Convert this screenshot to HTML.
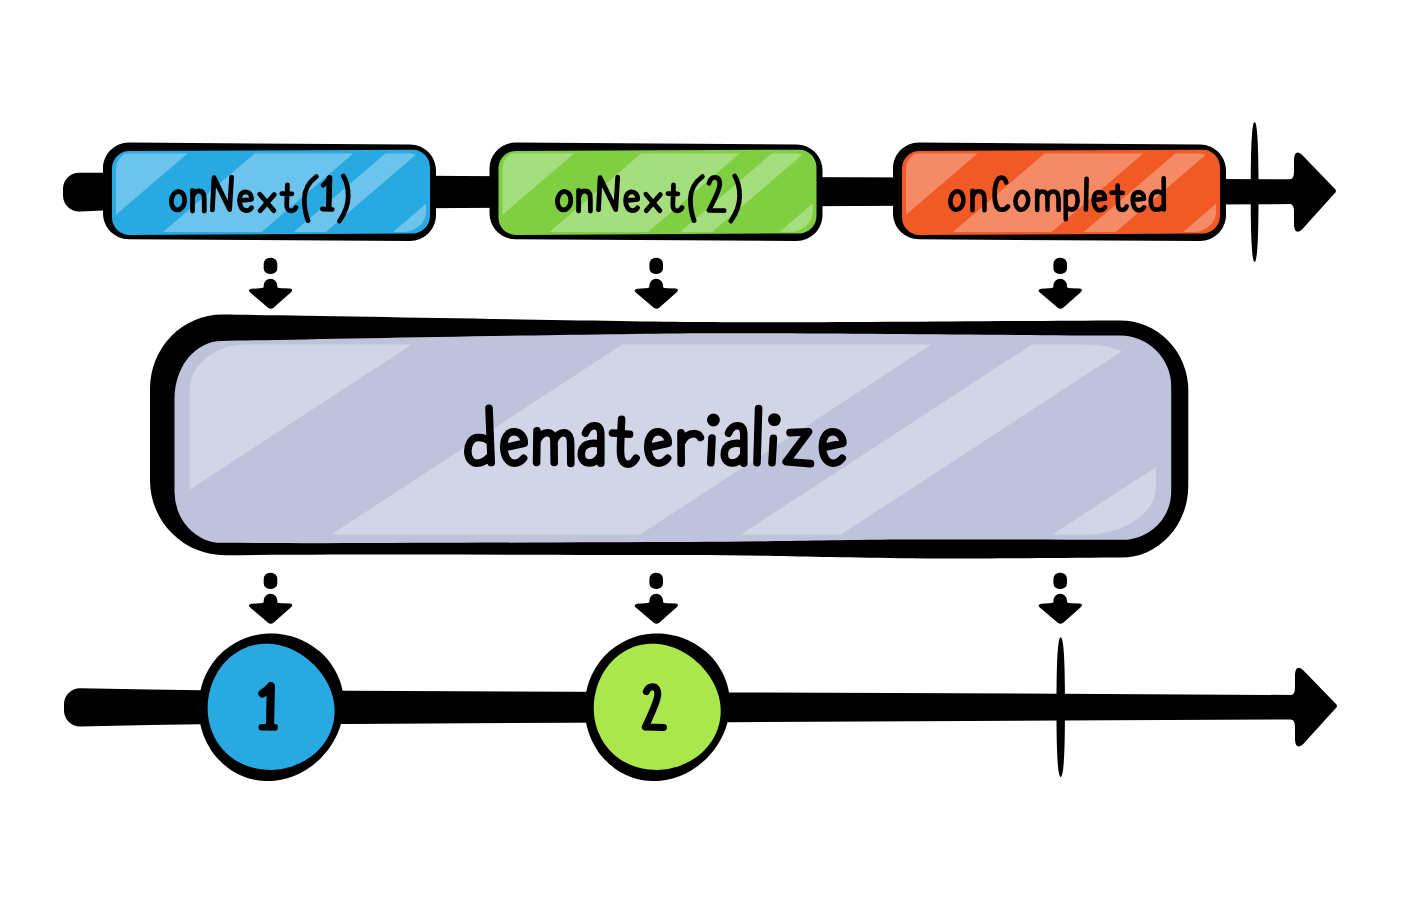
<!DOCTYPE html><html><head><meta charset="utf-8"><style>html,body{margin:0;padding:0;background:#fff;overflow:hidden;width:1401px;height:901px;}svg{display:block;}text{font-family:"Liberation Sans",sans-serif;}</style></head><body>
<svg width="1401" height="901" viewBox="0 0 1401 901">
<rect width="1401" height="901" fill="#fff"/>
<path fill="#000" d="M79,172.7 L80,172.7 L103,172.8 L460,176 L855,177.3 L1292,179.3 L1292,204.1 L855,206.1 L460,208 L103,210.6 L80,211.6 L79,211.6 C70.2,211.6 63,204.4 63,195.6 L63,188.7 C63,179.89999999999998 70.2,172.7 79,172.7 Z"/>
<path fill="#000" d="M1290,179.3 Q1294,179.3 1294,171.3 L1294,158.8 Q1295,148.8 1302,154.8 L1334,188 Q1338,191 1334,194 L1302,229.4 Q1295,235.4 1294,225.4 L1294,212.1 Q1294,204.1 1290,204.1 Z"/>
<path fill="#000" d="M129,142.6 L410,144.4 C424.3598,144.4 436,156.0402 436,170.4 L436,215 C436,229.3598 424.3598,241 410,241 L129,239.3 C114.6402,239.3 103,227.65980000000002 103,213.3 L103,168.6 C103,154.2402 114.6402,142.6 129,142.6 Z"/>
<path fill="#29A9E1" d="M129.5,151 L412.5,149.7 C422.16525,149.7 430,157.53474999999997 430,167.2 L430,215.9 C430,225.56525 422.16525,233.4 412.5,233.4 L129.5,235 C119.83475,235 112,227.16525000000001 112,217.5 L112,168.5 C112,158.83474999999999 119.83475,151 129.5,151 Z"/>
<clipPath id="c1"><path d="M129,153.2 L408.2,153.2 A18,18 0 0 1 426.2,171.2 L426.2,211 A23,21 0 0 1 403.2,232 L130,232 A14,16 0 0 1 116,216 L116,169.2 A13,16 0 0 1 129,153.2 Z"/></clipPath>
<path clip-path="url(#c1)" fill="#6CC4EC" d="M-206.0,153.2 L187.8,153.2 L95.9,232.0 L-297.9,232.0 Z M254.9,153.2 L353.5,153.2 L261.6,232.0 L163.0,232.0 Z M385.6,153.2 L417.6,153.2 L325.7,232.0 L293.7,232.0 Z M485.0,153.2 L907.0,153.2 L815.1,232.0 L393.1,232.0 Z"/>
<path fill="#000" d="M515.5,142.6 L796.5,144.4 C810.8598,144.4 822.5,156.0402 822.5,170.4 L822.5,215 C822.5,229.3598 810.8598,241 796.5,241 L515.5,239.3 C501.1402,239.3 489.5,227.65980000000002 489.5,213.3 L489.5,168.6 C489.5,154.2402 501.1402,142.6 515.5,142.6 Z"/>
<path fill="#80CF43" d="M516.0,151 L799.0,149.7 C808.66525,149.7 816.5,157.53474999999997 816.5,167.2 L816.5,215.9 C816.5,225.56525 808.66525,233.4 799.0,233.4 L516.0,235 C506.33475,235 498.5,227.16525000000001 498.5,217.5 L498.5,168.5 C498.5,158.83474999999999 506.33475,151 516.0,151 Z"/>
<clipPath id="c2"><path d="M515.5,153.2 L794.7,153.2 A18,18 0 0 1 812.7,171.2 L812.7,211 A23,21 0 0 1 789.7,232 L516.5,232 A14,16 0 0 1 502.5,216 L502.5,169.2 A13,16 0 0 1 515.5,153.2 Z"/></clipPath>
<path clip-path="url(#c2)" fill="#A5DE7E" d="M180.5,153.2 L574.3,153.2 L482.4,232.0 L88.6,232.0 Z M641.4,153.2 L740.0,153.2 L648.1,232.0 L549.5,232.0 Z M772.1,153.2 L804.1,153.2 L712.2,232.0 L680.2,232.0 Z M871.5,153.2 L1293.5,153.2 L1201.6,232.0 L779.6,232.0 Z"/>
<path fill="#000" d="M919,142.6 L1200,144.4 C1214.3598,144.4 1226,156.0402 1226,170.4 L1226,215 C1226,229.3598 1214.3598,241 1200,241 L919,239.3 C904.6402,239.3 893,227.65980000000002 893,213.3 L893,168.6 C893,154.2402 904.6402,142.6 919,142.6 Z"/>
<path fill="#F15A24" d="M919.5,151 L1202.5,149.7 C1212.16525,149.7 1220,157.53474999999997 1220,167.2 L1220,215.9 C1220,225.56525 1212.16525,233.4 1202.5,233.4 L919.5,235 C909.83475,235 902,227.16525000000001 902,217.5 L902,168.5 C902,158.83474999999999 909.83475,151 919.5,151 Z"/>
<clipPath id="c3"><path d="M919,153.2 L1198.2,153.2 A18,18 0 0 1 1216.2,171.2 L1216.2,211 A23,21 0 0 1 1193.2,232 L920,232 A14,16 0 0 1 906,216 L906,169.2 A13,16 0 0 1 919,153.2 Z"/></clipPath>
<path clip-path="url(#c3)" fill="#F48B66" d="M584.0,153.2 L977.8,153.2 L885.9,232.0 L492.1,232.0 Z M1044.9,153.2 L1143.5,153.2 L1051.6,232.0 L953.0,232.0 Z M1175.6,153.2 L1207.6,153.2 L1115.7,232.0 L1083.7,232.0 Z M1275.0,153.2 L1697.0,153.2 L1605.1,232.0 L1183.1,232.0 Z"/>
<path fill="#000" d="M1254.6,122 C1257.7199999999998,122.5 1258.5,152.8 1258.5,192.0 C1258.5,231.2 1257.7199999999998,261.5 1254.6,262 C1251.48,261.5 1250.6999999999998,231.2 1250.6999999999998,192.0 C1250.6999999999998,152.8 1251.48,122.5 1254.6,122 Z"/>
<g fill="none" stroke="#000" stroke-width="4.8"><ellipse cx="178" cy="200.7" rx="6.7" ry="9.2" transform="rotate(6 178 200.7)"/><ellipse cx="564.1" cy="200.7" rx="6.7" ry="9.2" transform="rotate(6 564.1 200.7)"/></g>
<g fill="none" stroke="#000" stroke-width="4.8" stroke-linecap="round" stroke-linejoin="round"><path d="M192.50,190.50 L192.50,211.00 M192.60,197.50 C193.50,192.50 196.00,191.00 198.50,191.00 C202.50,191.00 204.20,193.50 204.20,198.00 L204.30,211.00 M212.40,209.80 L214.00,177.60 L229.60,209.50 L231.60,177.20 M240.00,200.60 L251.50,199.40 C251.80,194.50 249.00,191.80 245.50,191.80 C241.50,191.80 239.50,195.50 239.50,200.50 C239.50,206.50 242.50,210.60 246.50,210.60 C249.00,210.60 250.50,209.40 251.50,207.80 M259.80,194.20 L273.80,210.60 M274.20,194.60 L260.20,210.60 M287.40,185.00 L286.70,204.50 C286.60,209.00 288.50,210.80 291.00,210.80 C293.50,210.80 295.00,209.50 296.00,207.60 M281.80,193.60 L291.80,193.90 M316.30,176.60 C309.00,182.00 304.50,190.00 304.30,199.00 C304.20,207.00 305.50,214.00 308.00,220.60 M323.20,185.20 C325.20,183.50 327.60,181.00 329.60,177.60 L328.70,208.40 M322.40,209.00 L332.20,209.40 M343.30,176.00 C346.50,181.00 348.20,188.00 348.20,196.00 C348.20,205.00 345.00,213.00 339.50,221.00"/><path d="M578.60,190.50 L578.60,211.00 M578.70,197.50 C579.60,192.50 582.10,191.00 584.60,191.00 C588.60,191.00 590.30,193.50 590.30,198.00 L590.40,211.00 M598.50,209.80 L600.10,177.60 L615.70,209.50 L617.70,177.20 M626.10,200.60 L637.60,199.40 C637.90,194.50 635.10,191.80 631.60,191.80 C627.60,191.80 625.60,195.50 625.60,200.50 C625.60,206.50 628.60,210.60 632.60,210.60 C635.10,210.60 636.60,209.40 637.60,207.80 M645.90,194.20 L659.90,210.60 M660.30,194.60 L646.30,210.60 M673.50,185.00 L672.80,204.50 C672.70,209.00 674.60,210.80 677.10,210.80 C679.60,210.80 681.10,209.50 682.10,207.60 M667.90,193.60 L677.90,193.90 M702.40,176.60 C695.10,182.00 690.60,190.00 690.40,199.00 C690.30,207.00 691.60,214.00 694.10,220.60 M709,183.2 C710,179.2 712.3,177.3 714.8,177.3 C718.2,177.3 719.8,180 719.8,184 C719.8,189.5 716,196 709,210.4 L724.2,210.6 M734.7,176 C737.9,181 739.6,188 739.6,196 C739.6,205 736.4,213 730.9,221"/></g>
<g fill="none" stroke="#000" stroke-width="4.6" stroke-linecap="round" stroke-linejoin="round"><path d="M972.5,190.8 L972.5,210.3 M972.6,197.5 C973.5,192.5 976,191.3 978.5,191.3 C982.5,191.3 984.4,193.8 984.4,198.3 L984.5,210.3 M1006.2,182.5 C1005.5,179 1003.5,177.6 1001.2,177.6 C996.5,177.6 994.6,186.5 994.6,194.5 C994.6,203.5 997,209.8 1001.5,209.8 C1004.5,209.8 1006.5,208.5 1008,206.5 M1037.2,190.8 L1037.2,210 M1037.3,197 C1038,192.8 1040,191.5 1042.3,191.5 C1045.5,191.5 1047.4,193.5 1047.4,198 L1047.5,209.8 M1047.5,197.5 C1048.3,193 1050.5,191.5 1053,191.5 C1056.5,191.5 1058.5,194 1058.5,198.5 L1058.6,210 M1065.7,191.6 L1065.8,219.3 M1066,195 C1067.5,192.3 1070.5,191.4 1072.6,191.4 C1076.3,191.4 1077.6,195.5 1077.6,200.5 C1077.6,206 1075,209.6 1071.5,209.6 C1069.5,209.6 1067.6,208.6 1066,207 M1086.6,178.9 L1085.9,209.5 M1094,200 L1105,198.8 C1105.2,194.3 1102.5,192.1 1099.3,192.1 C1095.5,192.1 1093.7,195.5 1093.7,200.3 C1093.7,206 1096.5,210.2 1100,210.2 C1102.5,210.2 1104,209 1105,207.3 M1117.6,185.6 L1118,204.5 C1118.1,208.5 1120,210 1122.3,210 C1124.5,210 1125.8,208.5 1126.6,206.5 M1111.6,192.6 L1122.6,192.9 M1133.00,200.00 L1144.00,198.80 C1144.20,194.30 1141.50,192.10 1138.30,192.10 C1134.50,192.10 1132.70,195.50 1132.70,200.30 C1132.70,206.00 1135.50,210.20 1139.00,210.20 C1141.50,210.20 1143.00,209.00 1144.00,207.30 M1163.7,178.4 L1163.8,209.5 M1163.5,194.5 C1161.5,192.2 1159.2,191.6 1157.2,191.6 C1153,191.6 1150.7,196 1150.7,201 C1150.7,206.5 1153,209.8 1156.5,209.8 C1159,209.8 1161.5,208.5 1163.6,206"/><ellipse cx="956.9" cy="200.55" rx="6.5" ry="9.25" transform="rotate(6 956.9 200.55)"/><ellipse cx="1021.8" cy="200.75" rx="6.3" ry="9.05" transform="rotate(6 1021.8 200.75)"/></g>
<rect x="263.7" y="257.8" width="13.6" height="16.3" rx="6.4" ry="5.9" fill="#000"/>
<path fill="#000" d="M263.7,287.3 L263.7,285.6 A6.8,6.8 0 0 1 277.3,285.6 L277.3,287.3 Q278.5,288.3 281.5,288.3 L290.0,288.6 Q294.0,289.3 291.0,292.3 L273.5,307.8 Q270.8,309.8 268.1,307.8 L251.0,293.3 Q246.5,289.8 251.5,288.8 L259.5,288.3 Q262.5,288.3 263.7,287.3 Z"/>
<rect x="263.7" y="572.8" width="13.6" height="16.3" rx="6.4" ry="5.9" fill="#000"/>
<path fill="#000" d="M263.7,602.3 L263.7,600.5999999999999 A6.8,6.8 0 0 1 277.3,600.5999999999999 L277.3,602.3 Q278.5,603.3 281.5,603.3 L290.0,603.5999999999999 Q294.0,604.3 291.0,607.3 L273.5,622.8 Q270.8,624.8 268.1,622.8 L251.0,608.3 Q246.5,604.8 251.5,603.8 L259.5,603.3 Q262.5,603.3 263.7,602.3 Z"/>
<rect x="649.4000000000001" y="257.8" width="13.6" height="16.3" rx="6.4" ry="5.9" fill="#000"/>
<path fill="#000" d="M649.4000000000001,287.3 L649.4000000000001,285.6 A6.8,6.8 0 0 1 663.0,285.6 L663.0,287.3 Q664.2,288.3 667.2,288.3 L675.7,288.6 Q679.7,289.3 676.7,292.3 L659.2,307.8 Q656.5,309.8 653.8000000000001,307.8 L636.7,293.3 Q632.2,289.8 637.2,288.8 L645.2,288.3 Q648.2,288.3 649.4000000000001,287.3 Z"/>
<rect x="649.4000000000001" y="572.8" width="13.6" height="16.3" rx="6.4" ry="5.9" fill="#000"/>
<path fill="#000" d="M649.4000000000001,602.3 L649.4000000000001,600.5999999999999 A6.8,6.8 0 0 1 663.0,600.5999999999999 L663.0,602.3 Q664.2,603.3 667.2,603.3 L675.7,603.5999999999999 Q679.7,604.3 676.7,607.3 L659.2,622.8 Q656.5,624.8 653.8000000000001,622.8 L636.7,608.3 Q632.2,604.8 637.2,603.8 L645.2,603.3 Q648.2,603.3 649.4000000000001,602.3 Z"/>
<rect x="1053.4" y="257.8" width="13.6" height="16.3" rx="6.4" ry="5.9" fill="#000"/>
<path fill="#000" d="M1053.4,287.3 L1053.4,285.6 A6.8,6.8 0 0 1 1067.0,285.6 L1067.0,287.3 Q1068.2,288.3 1071.2,288.3 L1079.7,288.6 Q1083.7,289.3 1080.7,292.3 L1063.2,307.8 Q1060.5,309.8 1057.8,307.8 L1040.7,293.3 Q1036.2,289.8 1041.2,288.8 L1049.2,288.3 Q1052.2,288.3 1053.4,287.3 Z"/>
<rect x="1053.4" y="572.8" width="13.6" height="16.3" rx="6.4" ry="5.9" fill="#000"/>
<path fill="#000" d="M1053.4,602.3 L1053.4,600.5999999999999 A6.8,6.8 0 0 1 1067.0,600.5999999999999 L1067.0,602.3 Q1068.2,603.3 1071.2,603.3 L1079.7,603.5999999999999 Q1083.7,604.3 1080.7,607.3 L1063.2,622.8 Q1060.5,624.8 1057.8,622.8 L1040.7,608.3 Q1036.2,604.8 1041.2,603.8 L1049.2,603.3 Q1052.2,603.3 1053.4,602.3 Z"/>
<path fill="#000" d="M150,388.4 A72,74 0 0 1 222,314.6 C300,315.5 600,321 700,322.1 C800,323 1000,321 1120.3,320.5 A68,70 0 0 1 1188.3,390.5 L1188.3,485.7 A67,72 0 0 1 1121.3,557.6 C1000,558.5 950,558.8 900,558.3 C800,557 750,555 690,555 C550,554.8 350,554 225,555.3 A75,75 0 0 1 150,480.3 Z"/>
<path fill="#BEC3DB" d="M174.5,398.5 A47,57.5 0 0 1 221.5,341 C300,339.5 550,334.5 700,333.2 C800,332.8 1000,335 1120.2,335.6 A51,51 0 0 1 1171.2,386.6 L1171.2,491.8 A49,48 0 0 1 1122.2,539.8 C1000,539.4 950,539.3 900,539.6 C800,540.5 750,542 690,542 C550,542.2 350,543.8 221.5,542.8 A47,51 0 0 1 174.5,491.8 Z"/>
<clipPath id="c4"><path d="M247.5,344.2 L1084,344.2 A72,48 0 0 1 1156,392.2 L1156,486.79999999999995 A72,48 0 0 1 1084,534.8 L247.5,534.8 A58,46 0 0 1 189.5,488.79999999999995 L189.5,390.2 A58,46 0 0 1 247.5,344.2 Z"/></clipPath>
<path clip-path="url(#c4)" fill="#D2D5E5" d="M-822.5,344.2 L412.3,344.2 L120.4,534.8 L-1114.4,534.8 Z M622.7,344.2 L931.7,344.2 L639.8,534.8 L330.7,534.8 Z M1032.4,344.2 L1132.6,344.2 L840.7,534.8 L740.5,534.8 Z M1344.0,344.2 L2667.0,344.2 L2375.1,534.8 L1052.1,534.8 Z"/>
<g fill="none" stroke="#000" stroke-width="7.6" stroke-linecap="round" stroke-linejoin="round"><path d="M489,408.2 L491.2,462.5 M489.2,441.5 C486.5,438.5 481.5,437.3 477.5,437.5 C471,438 467.8,445 467.8,451 C467.8,458 471.5,463.2 477,463.2 C482,463.2 486.2,460.5 489.8,456.5 M505,447.5 L524.2,443.2 C524.6,436 519.5,431.8 514,431.8 C507.5,431.8 503.8,438 503.8,447 C503.8,456 508,463.2 514.5,463.2 C518.5,463.2 521.5,461 523.6,458.2 M537,430.8 L536.6,462.5 M537.2,441 C539.5,435.5 543.5,432.8 547.5,432.8 C552,432.8 554,436.5 554,441.5 L554.2,462.5 M554.2,441 C556.3,435.5 559.8,432.8 563.8,432.8 C568.6,432.8 570.6,437 570.6,443 L570.8,463.5 M585.5,433.2 C587.5,428.2 591,425.8 594.5,425.8 C599,425.8 600.8,429.5 600.8,435 L600.8,463.2 M600.4,444.5 C596,443 590.5,443 586.5,444.8 C582.8,446.5 581.3,450.5 581.3,454.5 C581.3,459.5 584.5,463 589.5,463 C594.5,463 598.2,459.5 600.6,455 M621.6,419.3 C621.2,430 620.4,442 620.5,452 C620.7,460 623.5,464.2 628,464.2 C631.5,464.2 634,461.5 636,458.2 M612.5,433 L629.6,434.2 M649.00,447.50 L668.20,443.20 C668.60,436.00 663.50,431.80 658.00,431.80 C651.50,431.80 647.80,438.00 647.80,447.00 C647.80,456.00 652.00,463.20 658.50,463.20 C662.50,463.20 665.50,461.00 667.60,458.20 M681,432.8 L681.2,463.2 M682,442 C684.5,436.5 689.5,433.6 694,433.6 C697.3,433.6 699.3,435 700.4,437.6 M712,438 L710.8,462.8 M728.50,433.20 C730.50,428.20 734.00,425.80 737.50,425.80 C742.00,425.80 743.80,429.50 743.80,435.00 L743.80,463.20 M743.40,444.50 C739.00,443.00 733.50,443.00 729.50,444.80 C725.80,446.50 724.30,450.50 724.30,454.50 C724.30,459.50 727.50,463.00 732.50,463.00 C737.50,463.00 741.20,459.50 743.60,455.00 M758.6,408.6 L757,462.7 M773.4,438.2 L772,462.8 M790,432.6 L808.6,431.8 L786.2,461.8 L810.5,463.6 M823.60,447.50 L842.80,443.20 C843.20,436.00 838.10,431.80 832.60,431.80 C826.10,431.80 822.40,438.00 822.40,447.00 C822.40,456.00 826.60,463.20 833.10,463.20 C837.10,463.20 840.10,461.00 842.20,458.20"/></g>
<g fill="#000"><circle cx="713.4" cy="420" r="6.4"/><circle cx="774.4" cy="419.6" r="6.4"/></g>
<path fill="#000" d="M80,688.2 L80,688.2 L150,689.4 L200,690.2 L350,690.8 L570,691.7 L730,692.4 L1060,693.7 L1293,695 L1293,719.4 L1060,720.6 L730,722.2 L570,722.8 L350,723.9 L200,724.3 L150,725 L80,726.5 L80,726.5 C71.2,726.5 64,719.3 64,710.5 L64,704.2 C64,695.4000000000001 71.2,688.2 80,688.2 Z"/>
<path fill="#000" d="M1291,695 Q1295,695 1295,687 L1295,674 Q1296,664 1303,670 L1335,703 Q1339,706 1335,709 L1303,744.2 Q1296,750.2 1295,740.2 L1295,727.4 Q1295,719.4 1291,719.4 Z"/>
<path fill="#000" d="M1060.7,637.2 C1064.1000000000001,637.7 1064.95,667.956 1064.95,707.1 C1064.95,746.244 1064.1000000000001,776.5 1060.7,777 C1057.3,776.5 1056.45,746.244 1056.45,707.1 C1056.45,667.956 1057.3,637.7 1060.7,637.2 Z"/>
<path fill="#000" d="M198.54,707.09 C198.55,704.97 198.65,702.84 198.83,700.73 C199.02,698.62 199.29,696.50 199.64,694.41 C200.00,692.32 200.44,690.23 200.97,688.17 C201.49,686.12 202.11,684.07 202.81,682.06 C203.50,680.05 204.29,678.07 205.16,676.12 C206.02,674.18 206.98,672.26 208.01,670.39 C209.05,668.53 210.17,666.70 211.36,664.93 C212.56,663.16 213.84,661.44 215.19,659.78 C216.54,658.12 217.97,656.51 219.46,654.98 C220.96,653.45 222.53,651.98 224.16,650.59 C225.79,649.19 227.49,647.87 229.24,646.63 C230.99,645.39 232.81,644.23 234.66,643.16 C236.52,642.08 238.43,641.09 240.38,640.19 C242.32,639.29 244.32,638.47 246.34,637.75 C248.36,637.03 250.41,636.39 252.49,635.85 C254.56,635.31 256.67,634.87 258.78,634.51 C260.89,634.16 263.03,633.90 265.16,633.73 C267.29,633.56 269.44,633.49 271.58,633.51 C273.72,633.52 275.86,633.63 277.99,633.83 C280.11,634.04 282.24,634.33 284.34,634.71 C286.44,635.09 288.53,635.56 290.59,636.12 C292.65,636.68 294.70,637.33 296.70,638.06 C298.71,638.79 300.69,639.61 302.62,640.51 C304.56,641.41 306.46,642.40 308.31,643.46 C310.17,644.53 311.98,645.68 313.73,646.90 C315.48,648.12 317.18,649.42 318.82,650.79 C320.46,652.16 322.04,653.61 323.55,655.12 C325.06,656.63 326.51,658.22 327.87,659.86 C329.23,661.50 330.53,663.21 331.74,664.97 C332.95,666.73 334.08,668.55 335.12,670.41 C336.16,672.27 337.12,674.18 337.98,676.13 C338.84,678.08 339.61,680.07 340.29,682.09 C340.97,684.10 341.55,686.15 342.03,688.22 C342.52,690.28 342.91,692.37 343.20,694.47 C343.49,696.56 343.68,698.67 343.78,700.78 C343.88,702.88 343.88,705.00 343.79,707.09 C343.69,709.19 343.51,711.29 343.23,713.36 C342.96,715.44 342.59,717.50 342.14,719.54 C341.69,721.57 341.15,723.59 340.53,725.57 C339.92,727.55 339.21,729.51 338.44,731.43 C337.67,733.35 336.81,735.24 335.89,737.08 C334.97,738.93 333.97,740.74 332.91,742.50 C331.85,744.27 330.72,745.99 329.53,747.67 C328.34,749.35 327.08,750.98 325.77,752.56 C324.45,754.15 323.08,755.68 321.65,757.16 C320.22,758.64 318.73,760.08 317.18,761.45 C315.64,762.82 314.05,764.14 312.40,765.39 C310.75,766.65 309.05,767.85 307.30,768.97 C305.56,770.10 303.76,771.17 301.92,772.16 C300.08,773.15 298.19,774.07 296.26,774.91 C294.33,775.75 292.36,776.52 290.36,777.19 C288.36,777.87 286.32,778.47 284.25,778.97 C282.19,779.48 280.09,779.90 277.97,780.21 C275.86,780.53 273.72,780.76 271.58,780.88 C269.43,781.00 267.27,781.02 265.12,780.94 C262.96,780.86 260.80,780.68 258.65,780.39 C256.51,780.10 254.37,779.70 252.26,779.21 C250.14,778.71 248.04,778.11 245.99,777.40 C243.93,776.70 241.90,775.89 239.92,774.99 C237.94,774.08 235.99,773.08 234.11,771.99 C232.23,770.89 230.39,769.70 228.63,768.43 C226.86,767.16 225.15,765.80 223.52,764.37 C221.88,762.94 220.31,761.43 218.82,759.85 C217.33,758.28 215.91,756.63 214.57,754.93 C213.23,753.23 211.97,751.46 210.80,749.65 C209.62,747.84 208.53,745.98 207.52,744.08 C206.51,742.18 205.58,740.23 204.74,738.26 C203.90,736.29 203.15,734.27 202.48,732.24 C201.81,730.21 201.22,728.15 200.72,726.08 C200.23,724.01 199.81,721.91 199.48,719.81 C199.15,717.70 198.91,715.58 198.75,713.47 C198.60,711.35 198.52,709.22 198.54,707.09 Z"/>
<path fill="#29A9E1" d="M207.70,705.31 C207.78,703.44 207.93,701.58 208.15,699.73 C208.37,697.88 208.66,696.03 209.03,694.21 C209.40,692.39 209.84,690.58 210.34,688.79 C210.85,687.01 211.43,685.24 212.08,683.51 C212.73,681.77 213.45,680.06 214.24,678.38 C215.02,676.70 215.88,675.05 216.80,673.45 C217.73,671.84 218.72,670.27 219.78,668.75 C220.83,667.23 221.96,665.74 223.15,664.32 C224.33,662.90 225.59,661.52 226.90,660.22 C228.21,658.91 229.59,657.65 231.02,656.48 C232.44,655.30 233.93,654.18 235.47,653.15 C237.00,652.11 238.59,651.15 240.22,650.27 C241.84,649.39 243.52,648.59 245.22,647.89 C246.92,647.18 248.66,646.55 250.41,646.02 C252.17,645.49 253.96,645.04 255.75,644.69 C257.54,644.34 259.36,644.08 261.17,643.91 C262.98,643.74 264.80,643.66 266.60,643.66 C268.40,643.67 270.21,643.76 271.99,643.94 C273.78,644.11 275.55,644.37 277.30,644.70 C279.04,645.03 280.77,645.45 282.47,645.93 C284.16,646.40 285.83,646.96 287.47,647.57 C289.10,648.18 290.71,648.85 292.28,649.58 C293.85,650.31 295.38,651.10 296.88,651.94 C298.38,652.77 299.85,653.66 301.28,654.59 C302.71,655.52 304.10,656.50 305.46,657.52 C306.82,658.54 308.14,659.60 309.43,660.70 C310.71,661.80 311.97,662.94 313.18,664.12 C314.40,665.30 315.58,666.52 316.72,667.78 C317.86,669.04 318.97,670.34 320.03,671.68 C321.09,673.02 322.11,674.39 323.09,675.81 C324.06,677.23 325.00,678.69 325.87,680.19 C326.75,681.68 327.58,683.22 328.35,684.80 C329.12,686.37 329.84,687.99 330.48,689.64 C331.12,691.29 331.71,692.98 332.21,694.69 C332.71,696.41 333.15,698.16 333.50,699.93 C333.85,701.70 334.13,703.50 334.31,705.31 C334.50,707.12 334.60,708.96 334.60,710.79 C334.61,712.62 334.53,714.47 334.35,716.31 C334.17,718.14 333.90,719.99 333.54,721.80 C333.17,723.62 332.71,725.43 332.16,727.21 C331.61,728.99 330.96,730.75 330.23,732.47 C329.50,734.19 328.68,735.88 327.77,737.52 C326.87,739.15 325.88,740.76 324.82,742.30 C323.76,743.84 322.61,745.34 321.40,746.77 C320.20,748.20 318.92,749.58 317.58,750.90 C316.25,752.21 314.84,753.47 313.40,754.65 C311.95,755.84 310.44,756.96 308.90,758.01 C307.35,759.07 305.76,760.05 304.13,760.97 C302.50,761.89 300.83,762.74 299.14,763.52 C297.44,764.30 295.71,765.01 293.96,765.65 C292.20,766.29 290.42,766.86 288.62,767.36 C286.82,767.86 285.00,768.29 283.16,768.65 C281.33,769.01 279.47,769.29 277.61,769.51 C275.75,769.72 273.87,769.86 271.99,769.92 C270.12,769.98 268.23,769.96 266.35,769.87 C264.46,769.78 262.58,769.61 260.70,769.35 C258.83,769.10 256.95,768.77 255.10,768.35 C253.25,767.94 251.41,767.44 249.59,766.86 C247.78,766.28 245.98,765.61 244.23,764.86 C242.47,764.11 240.74,763.28 239.05,762.37 C237.37,761.45 235.72,760.46 234.13,759.39 C232.54,758.31 230.99,757.16 229.52,755.94 C228.04,754.71 226.61,753.41 225.26,752.05 C223.90,750.69 222.61,749.25 221.40,747.76 C220.19,746.28 219.05,744.72 217.99,743.13 C216.92,741.53 215.94,739.88 215.04,738.19 C214.14,736.51 213.32,734.77 212.58,733.02 C211.85,731.26 211.19,729.46 210.62,727.65 C210.06,725.84 209.57,723.99 209.17,722.15 C208.76,720.30 208.44,718.43 208.20,716.56 C207.96,714.69 207.80,712.81 207.72,710.94 C207.64,709.06 207.63,707.18 207.70,705.31 Z"/>
<path fill="#000" d="M584.64,707.09 C584.65,704.97 584.75,702.84 584.93,700.73 C585.12,698.62 585.39,696.50 585.74,694.41 C586.10,692.32 586.54,690.23 587.07,688.17 C587.59,686.12 588.21,684.07 588.91,682.06 C589.60,680.05 590.39,678.07 591.26,676.12 C592.12,674.18 593.08,672.26 594.11,670.39 C595.15,668.53 596.27,666.70 597.46,664.93 C598.66,663.16 599.94,661.44 601.29,659.78 C602.64,658.12 604.07,656.51 605.56,654.98 C607.06,653.45 608.63,651.98 610.26,650.59 C611.89,649.19 613.59,647.87 615.34,646.63 C617.09,645.39 618.91,644.23 620.76,643.16 C622.62,642.08 624.53,641.09 626.48,640.19 C628.42,639.29 630.42,638.47 632.44,637.75 C634.46,637.03 636.51,636.39 638.59,635.85 C640.66,635.31 642.77,634.87 644.88,634.51 C646.99,634.16 649.13,633.90 651.26,633.73 C653.39,633.56 655.54,633.49 657.68,633.51 C659.82,633.52 661.96,633.63 664.09,633.83 C666.21,634.04 668.34,634.33 670.44,634.71 C672.54,635.09 674.63,635.56 676.69,636.12 C678.75,636.68 680.80,637.33 682.80,638.06 C684.81,638.79 686.79,639.61 688.72,640.51 C690.66,641.41 692.56,642.40 694.41,643.46 C696.27,644.53 698.08,645.68 699.83,646.90 C701.58,648.12 703.28,649.42 704.92,650.79 C706.56,652.16 708.14,653.61 709.65,655.12 C711.16,656.63 712.61,658.22 713.97,659.86 C715.33,661.50 716.63,663.21 717.84,664.97 C719.05,666.73 720.18,668.55 721.22,670.41 C722.26,672.27 723.22,674.18 724.08,676.13 C724.94,678.08 725.71,680.07 726.39,682.09 C727.07,684.10 727.65,686.15 728.13,688.22 C728.62,690.28 729.01,692.37 729.30,694.47 C729.59,696.56 729.78,698.67 729.88,700.78 C729.98,702.88 729.98,705.00 729.89,707.09 C729.79,709.19 729.61,711.29 729.33,713.36 C729.06,715.44 728.69,717.50 728.24,719.54 C727.79,721.57 727.25,723.59 726.63,725.57 C726.02,727.55 725.31,729.51 724.54,731.43 C723.77,733.35 722.91,735.24 721.99,737.08 C721.07,738.93 720.07,740.74 719.01,742.50 C717.95,744.27 716.82,745.99 715.63,747.67 C714.44,749.35 713.18,750.98 711.87,752.56 C710.55,754.15 709.18,755.68 707.75,757.16 C706.32,758.64 704.83,760.08 703.28,761.45 C701.74,762.82 700.15,764.14 698.50,765.39 C696.85,766.65 695.15,767.85 693.40,768.97 C691.66,770.10 689.86,771.17 688.02,772.16 C686.18,773.15 684.29,774.07 682.36,774.91 C680.43,775.75 678.46,776.52 676.46,777.19 C674.46,777.87 672.42,778.47 670.35,778.97 C668.29,779.48 666.19,779.90 664.07,780.21 C661.96,780.53 659.82,780.76 657.68,780.88 C655.53,781.00 653.37,781.02 651.22,780.94 C649.06,780.86 646.90,780.68 644.75,780.39 C642.61,780.10 640.47,779.70 638.36,779.21 C636.24,778.71 634.14,778.11 632.09,777.40 C630.03,776.70 628.00,775.89 626.02,774.99 C624.04,774.08 622.09,773.08 620.21,771.99 C618.33,770.89 616.49,769.70 614.73,768.43 C612.96,767.16 611.25,765.80 609.62,764.37 C607.98,762.94 606.41,761.43 604.92,759.85 C603.43,758.28 602.01,756.63 600.67,754.93 C599.33,753.23 598.07,751.46 596.90,749.65 C595.72,747.84 594.63,745.98 593.62,744.08 C592.61,742.18 591.68,740.23 590.84,738.26 C590.00,736.29 589.25,734.27 588.58,732.24 C587.91,730.21 587.32,728.15 586.82,726.08 C586.33,724.01 585.91,721.91 585.58,719.81 C585.25,717.70 585.01,715.58 584.85,713.47 C584.70,711.35 584.62,709.22 584.64,707.09 Z"/>
<path fill="#AAE74D" d="M593.80,705.31 C593.88,703.44 594.03,701.58 594.25,699.73 C594.47,697.88 594.76,696.03 595.13,694.21 C595.50,692.39 595.94,690.58 596.44,688.79 C596.95,687.01 597.53,685.24 598.18,683.51 C598.83,681.77 599.55,680.06 600.34,678.38 C601.12,676.70 601.98,675.05 602.90,673.45 C603.83,671.84 604.82,670.27 605.88,668.75 C606.93,667.23 608.06,665.74 609.25,664.32 C610.43,662.90 611.69,661.52 613.00,660.22 C614.31,658.91 615.69,657.65 617.12,656.48 C618.54,655.30 620.03,654.18 621.57,653.15 C623.10,652.11 624.69,651.15 626.32,650.27 C627.94,649.39 629.62,648.59 631.32,647.89 C633.02,647.18 634.76,646.55 636.51,646.02 C638.27,645.49 640.06,645.04 641.85,644.69 C643.64,644.34 645.46,644.08 647.27,643.91 C649.08,643.74 650.90,643.66 652.70,643.66 C654.50,643.67 656.31,643.76 658.09,643.94 C659.88,644.11 661.65,644.37 663.40,644.70 C665.14,645.03 666.87,645.45 668.57,645.93 C670.26,646.40 671.93,646.96 673.57,647.57 C675.20,648.18 676.81,648.85 678.38,649.58 C679.95,650.31 681.48,651.10 682.98,651.94 C684.48,652.77 685.95,653.66 687.38,654.59 C688.81,655.52 690.20,656.50 691.56,657.52 C692.92,658.54 694.24,659.60 695.53,660.70 C696.81,661.80 698.07,662.94 699.28,664.12 C700.50,665.30 701.68,666.52 702.82,667.78 C703.96,669.04 705.07,670.34 706.13,671.68 C707.19,673.02 708.21,674.39 709.19,675.81 C710.16,677.23 711.10,678.69 711.97,680.19 C712.85,681.68 713.68,683.22 714.45,684.80 C715.22,686.37 715.94,687.99 716.58,689.64 C717.22,691.29 717.81,692.98 718.31,694.69 C718.81,696.41 719.25,698.16 719.60,699.93 C719.95,701.70 720.23,703.50 720.41,705.31 C720.60,707.12 720.70,708.96 720.70,710.79 C720.71,712.62 720.63,714.47 720.45,716.31 C720.27,718.14 720.00,719.99 719.64,721.80 C719.27,723.62 718.81,725.43 718.26,727.21 C717.71,728.99 717.06,730.75 716.33,732.47 C715.60,734.19 714.78,735.88 713.87,737.52 C712.97,739.15 711.98,740.76 710.92,742.30 C709.86,743.84 708.71,745.34 707.50,746.77 C706.30,748.20 705.02,749.58 703.68,750.90 C702.35,752.21 700.94,753.47 699.50,754.65 C698.05,755.84 696.54,756.96 695.00,758.01 C693.45,759.07 691.86,760.05 690.23,760.97 C688.60,761.89 686.93,762.74 685.24,763.52 C683.54,764.30 681.81,765.01 680.06,765.65 C678.30,766.29 676.52,766.86 674.72,767.36 C672.92,767.86 671.10,768.29 669.26,768.65 C667.43,769.01 665.57,769.29 663.71,769.51 C661.85,769.72 659.97,769.86 658.09,769.92 C656.22,769.98 654.33,769.96 652.45,769.87 C650.56,769.78 648.68,769.61 646.80,769.35 C644.93,769.10 643.05,768.77 641.20,768.35 C639.35,767.94 637.51,767.44 635.69,766.86 C633.88,766.28 632.08,765.61 630.33,764.86 C628.57,764.11 626.84,763.28 625.15,762.37 C623.47,761.45 621.82,760.46 620.23,759.39 C618.64,758.31 617.09,757.16 615.62,755.94 C614.14,754.71 612.71,753.41 611.36,752.05 C610.00,750.69 608.71,749.25 607.50,747.76 C606.29,746.28 605.15,744.72 604.09,743.13 C603.02,741.53 602.04,739.88 601.14,738.19 C600.24,736.51 599.42,734.77 598.68,733.02 C597.95,731.26 597.29,729.46 596.72,727.65 C596.16,725.84 595.67,723.99 595.27,722.15 C594.86,720.30 594.54,718.43 594.30,716.56 C594.06,714.69 593.90,712.81 593.82,710.94 C593.74,709.06 593.73,707.18 593.80,705.31 Z"/>
<g fill="none" stroke="#000" stroke-linecap="round" stroke-linejoin="round"><path stroke-width="8.2" d="M262.4,693.4 C265.5,691.5 268.6,689.5 270.9,686.2 L270,725.2"/><path stroke-width="6.6" d="M261.8,727.2 L274.6,727.4"/><path stroke-width="7" d="M646.3,691.6 C647.5,688.6 650,686.8 652.5,686.8 C656,686.8 657.8,689.5 657.8,694 C657.8,701 652,712 645.3,727 L663.5,727.5"/></g>
<path fill="none" stroke="#000" stroke-width="5.6" stroke-linecap="round" d="M329.5,178 L328.7,208"/>
</svg></body></html>
